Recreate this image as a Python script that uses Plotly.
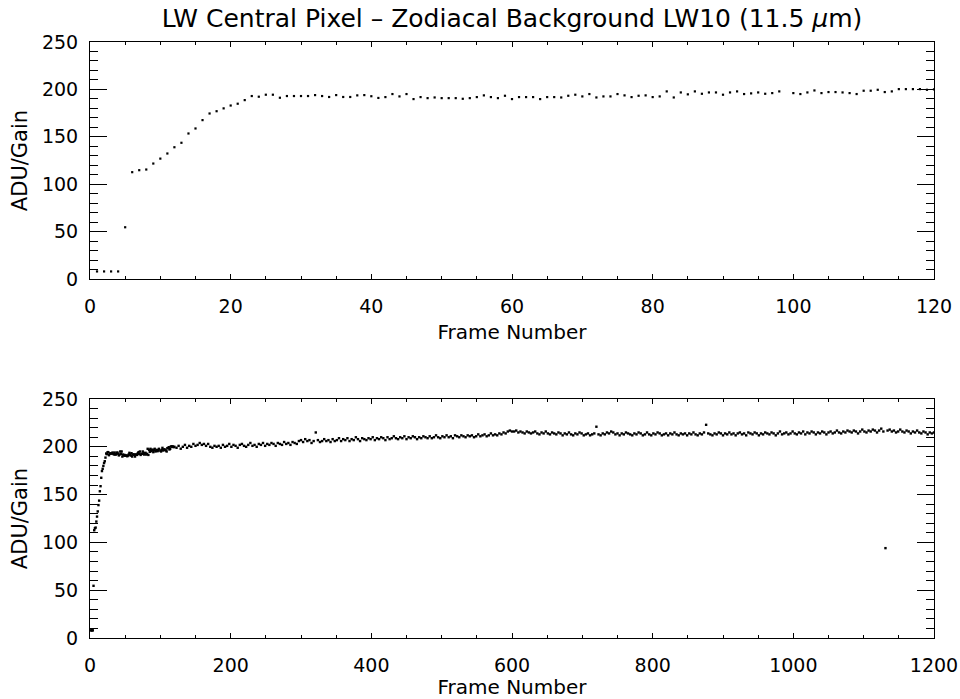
import plotly.graph_objects as go

# ---- data ----
top_frames = list(range(1, 121))
top_values = [
    8, 8, 8, 8, 54.6, 112.7, 114.8, 115.5, 121.8, 127.0,
    132.4, 139.0, 143.7, 153.5, 158.8, 167.6, 174.6, 177.0, 180.0, 183.0,
    184.9, 188.7, 193.0, 192.3, 194.4, 194.4, 191.2, 193.0, 193.0, 193.0,
    193.0, 194.0, 193.0, 192.0, 194.0, 192.0, 192.0, 193.7, 194.0, 192.8,
    191.0, 191.9, 195.1, 192.6, 195.1, 189.8, 191.9, 190.8, 191.5, 190.8,
    190.8, 190.8, 190.1, 190.8, 191.9, 193.7, 191.9, 190.8, 193.3, 189.8,
    191.9, 191.9, 191.9, 189.8, 191.9, 191.9, 191.5, 193.3, 194.4, 192.6,
    195.1, 191.5, 192.6, 192.6, 195.1, 193.7, 191.9, 193.3, 193.7, 191.9,
    192.6, 197.9, 191.5, 196.8, 194.8, 197.9, 195.4, 196.8, 196.8, 194.4,
    196.8, 197.9, 195.1, 195.8, 196.8, 195.4, 196.1, 197.9, None, 196.1,
    195.1, 196.8, 198.9, 196.1, 197.2, 197.2, 196.8, 196.1, 195.1, 198.6,
    198.6, 199.6, 197.2, 197.9, 200.3, 200.3, 200.3, 200.3, 199.6, 200.0,
]

# later frames (every third frame, 123..1200)
late_frames = list(range(123, 1201, 3))
late_values = [
    199, 201, 198, 200, 202, 199, 201, 200, 203, 201, 202, 204, 202, 203, 201, 203, 200, 199, 201, 200,
    201, 199, 202, 200, 201, 203, 200, 202, 201, 199, 202, 203, 201, 200, 202, 204, 201, 202, 200, 203,
    202, 204, 201, 203, 202, 204, 203, 201, 204, 203, 202, 205, 203, 204, 202, 205, 204, 203, 206, 207,
    205, 208, 206, 207, 204, 206, 215, 207, 205, 206, 208, 206, 207, 205, 208, 206, 207, 209, 206, 208,
    207, 209, 206, 208, 207, 210, 208, 206, 209, 208, 207, 209, 208, 210, 207, 209, 208, 210, 209, 207,
    210, 208, 209, 211, 209, 208, 210, 209, 211, 208, 210, 209, 211, 210, 208, 210, 209, 211, 210, 209,
    211, 209, 210, 212, 210, 209, 211, 210, 212, 210, 211, 209, 212, 211, 210, 212, 211, 210, 212, 211,
    212, 210, 211, 213, 211, 212, 213, 211, 212, 214, 212, 213, 212, 214, 213, 215, 214, 216, 217, 216,
    216, 217, 215, 216, 215, 214, 216, 215, 214, 215, 216, 214, 213, 215, 214, 216, 214, 213, 215, 214,
    213, 215, 214, 212, 214, 213, 215, 213, 212, 214, 213, 215, 214, 212, 213, 214, 212, 213, 214, 221,
    213, 212, 214, 213, 215, 214, 216, 215, 213, 214, 212, 214, 213, 215, 214, 213, 212, 214, 213, 215,
    214, 212, 213, 215, 213, 212, 214, 213, 215, 214, 212, 213, 214, 212, 214, 213, 215, 213, 212, 214,
    213, 214, 212, 214, 213, 215, 213, 212, 214, 213, 215, 223, 214, 213, 212, 214, 213, 215, 214, 212,
    214, 213, 215, 213, 214, 212, 214, 215, 213, 214, 212, 215, 214, 213, 215, 214, 212, 214, 213, 215,
    214, 213, 215, 214, 212, 214, 216, 213, 214, 215, 213, 214, 216, 214, 213, 215, 214, 216, 213, 215,
    214, 216, 215, 213, 215, 214, 216, 215, 213, 215, 216, 214, 215, 217, 215, 214, 216, 215, 217, 216,
    215, 217, 216, 214, 216, 218, 216, 215, 217, 216, 218, 217, 215, 217, 219, 216, 94, 217, 218, 216,
    217, 215, 216, 218, 216, 215, 217, 216, 214, 216, 215, 217, 215, 214, 216, 215, 213, 215, 214, 215,
]

title_text = "LW Central Pixel \u2013 Zodiacal Background LW10 (11.5 <i>\u03bc</i>m)"
x_title = "Frame Number"
y_title = "ADU/Gain"
y_ticks = [0, 50, 100, 150, 200, 250]
top_xticks = [0, 20, 40, 60, 80, 100, 120]
bot_xticks = [0, 200, 400, 600, 800, 1000, 1200]

FONT = "DejaVu Sans"

fig = go.Figure()
fig.add_trace(go.Scatter(x=top_frames, y=top_values, mode="markers",
                         marker=dict(symbol="square", size=2.2, color="black"),
                         xaxis="x", yaxis="y", showlegend=False))
fig.add_trace(go.Scatter(x=top_frames + late_frames, y=top_values + late_values,
                         mode="markers",
                         marker=dict(symbol="square", size=2.4, color="black"),
                         xaxis="x2", yaxis="y2", showlegend=False))

def xaxis(rng, ticks, minor, anchor):
    return dict(range=rng, tickvals=ticks, showline=True, linecolor="black", linewidth=1,
                mirror="allticks", ticks="inside", ticklen=5, tickcolor="black",
                minor=dict(dtick=minor, ticks="inside", ticklen=3, tickcolor="black"),
                showgrid=False, zeroline=False, anchor=anchor, automargin=False,
                tickfont=dict(family=FONT, size=19, color="black"),
                ticklabelstandoff=10,
                title=dict(text=x_title, font=dict(family=FONT, size=20, color="black"), standoff=9))

def yaxis(domain, anchor):
    return dict(range=[0, 250], tickvals=y_ticks, domain=domain, showline=True, linecolor="black",
                linewidth=1, mirror="allticks", ticks="inside", ticklen=17, tickcolor="black",
                minor=dict(dtick=10, ticks="inside", ticklen=8, tickcolor="black"),
                showgrid=False, zeroline=False, anchor=anchor, automargin=False,
                tickfont=dict(family=FONT, size=19, color="black"),
                ticklabelstandoff=7,
                title=dict(text=y_title, font=dict(family=FONT, size=21, color="black"), standoff=8))

fig.update_layout(
    width=960, height=699,
    margin=dict(l=90, r=26, t=42, b=61, autoexpand=False),
    paper_bgcolor="white", plot_bgcolor="white",
    title=dict(text=title_text, x=0.5, xref="paper", xanchor="center",
               y=1 - 18 / 699, yref="container", yanchor="middle",
               font=dict(family=FONT, size=25, color="black")),
    xaxis=xaxis([0, 120], top_xticks, 5, "y"),
    yaxis=yaxis([0.6023, 1.0], "x"),
    xaxis2=xaxis([0, 1200], bot_xticks, 50, "y2"),
    yaxis2=yaxis([0.0, 0.401], "x2"),
)

fig.write_html("out.html")
